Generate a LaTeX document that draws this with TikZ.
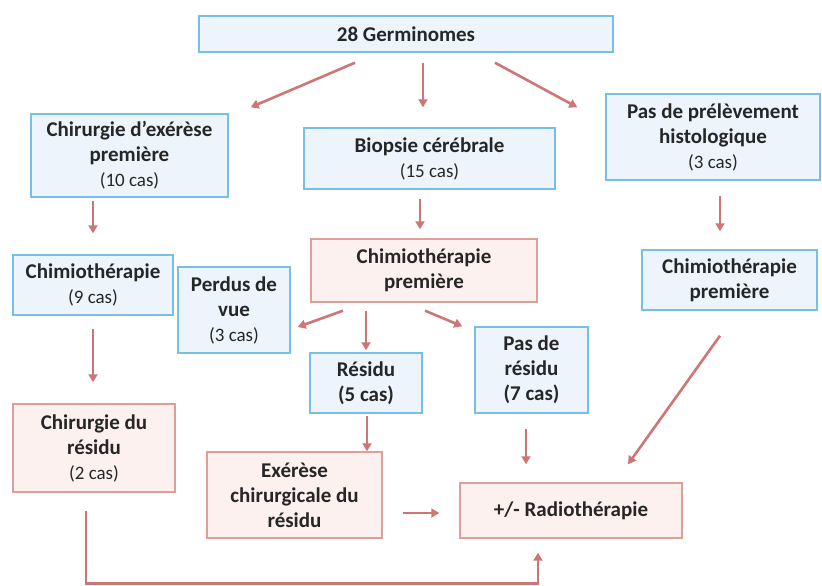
\documentclass[tikz,border=0pt]{standalone}
\usepackage{fontspec}
\setmainfont{Carlito}
\usetikzlibrary{arrows.meta,calc}
\definecolor{bluebd}{RGB}{118,192,232}
\definecolor{bluefill}{RGB}{237,244,251}
\definecolor{pinkbd}{RGB}{220,160,155}
\definecolor{pinkfill}{RGB}{252,241,239}
\definecolor{arrowc}{RGB}{205,118,118}
\newcommand\casn[1]{{\fontsize{19}{25}\selectfont\mdseries #1}}
\begin{document}
\begin{tikzpicture}[x=1pt,y=-1pt,
  box/.style={draw=bluebd,fill=bluefill,line width=1.4pt,inner sep=0pt,align=center,
    font=\bfseries\fontsize{21}{25}\selectfont,text=black!85},
  pbox/.style={box,draw=pinkbd,fill=pinkfill},
  arr/.style={draw=arrowc,line width=2.6pt,-{Triangle[length=8pt,width=9pt]}}]
\useasboundingbox (0,0) rectangle (822,586);
\node[box,minimum width=414pt,minimum height=36pt] (top) at (406,34) {28 Germinomes};
\node[box,minimum width=197pt,minimum height=83pt] (chir) at (129.5,155.5) {Chirurgie d’exérèse\\première\\\casn{(10 cas)}};
\node[box,minimum width=251pt,minimum height=61pt] (biop) at (429.5,158.5) {Biopsie cérébrale\\\casn{(15 cas)}};
\node[box,minimum width=214pt,minimum height=86pt] (pasp) at (713,137) {Pas de prélèvement\\histologique\\\casn{(3 cas)}};
\node[box,minimum width=160pt,minimum height=60pt] (chim9) at (93,285) {Chimiothérapie\\\casn{(9 cas)}};
\node[box,minimum width=112pt,minimum height=86pt] (perd) at (234,310) {Perdus de\\vue\\\casn{(3 cas)}};
\node[pbox,minimum width=226pt,minimum height=63pt] (chimc) at (424,270.5) {Chimiothérapie\\première};
\node[box,minimum width=175pt,minimum height=60pt] (chimr) at (729.5,280) {Chimiothérapie\\première};
\node[box,minimum width=112pt,minimum height=60pt] (resi) at (366,383) {Résidu\\(5 cas)};
\node[box,minimum width=113pt,minimum height=86pt] (pasr) at (531.5,370) {Pas de\\résidu\\(7 cas)};
\node[pbox,minimum width=162pt,minimum height=88pt] (chirr) at (94,448) {Chirurgie du\\résidu\\\casn{(2 cas)}};
\node[pbox,minimum width=175pt,minimum height=86pt] (exer) at (294.5,495) {Exérèse\\chirurgicale du\\résidu};
\node[pbox,minimum width=222pt,minimum height=55pt] (radio) at (571,510.5) {+/- Radiothérapie};
% connectors
\draw[arr] ($(top.south)+(-51,10)$) -- ($(chir.north east)+(22,-6)$);
\draw[arr] ($(top.south)+(17,10)$) -- ($(biop.north)+(-6.5,-20)$);
\draw[arr] ($(top.south)+(89,10)$) -- ($(pasp.north west)+(-28,14)$);
\draw[arr] ($(chir.south)+(-36.5,3)$) -- ($(chim9.north)+(0,-21)$);
\draw[arr] ($(biop.south)+(-9.5,9)$) -- ($(chimc.north)+(-4,-9)$);
\draw[arr] ($(pasp.south)+(7,15)$) -- ($(chimr.north)+(-9.5,-18)$);
\draw[arr] ($(chimc.south)+(-81,8)$) -- ($(perd.east)+(7,17)$);
\draw[arr] ($(chimc.south)+(-58,8)$) -- ($(resi.north)+(0,-2)$);
\draw[arr] ($(chimc.south)+(1,8)$) -- ($(pasr.north west)+(-12,0)$);
\draw[arr] ($(chim9.south)+(0,13)$) -- ($(chirr.north)+(-1,-21)$);
\draw[arr] ($(resi.south)+(1,2)$) -- ($(exer.north)+(72.5,0)$);
\draw[arr] ($(pasr.south)+(-5.5,15)$) -- ($(radio.north)+(-45,-18)$);
\draw[arr] ($(chimr.south)+(-9.5,25)$) -- ($(radio.north)+(57,-18)$);
\draw[arr] ($(exer.east)+(20,18)$) -- ($(radio.west)+(-20,2.5)$);
\draw[arr] ($(chirr.south)+(-8,18)$) |- ($(radio.south)+(-33,45)$) -- ($(radio.south)+(-33,14)$);
\end{tikzpicture}
\end{document}
